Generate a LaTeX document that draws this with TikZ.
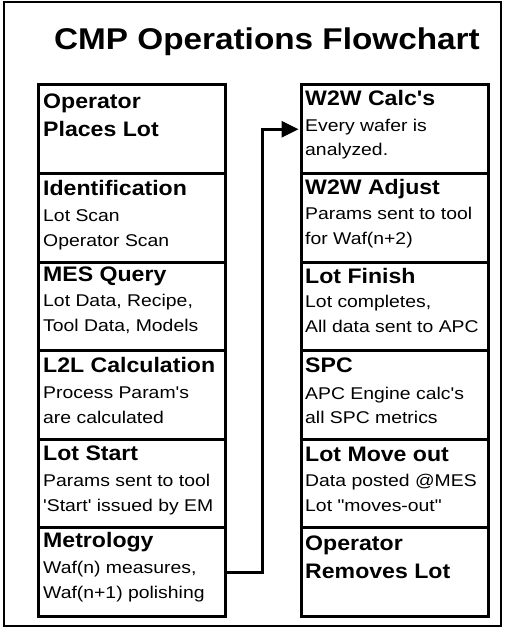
\documentclass[tikz,border=0pt]{standalone}
\usepackage{fontspec}
\setmainfont{Liberation Sans}[Ligatures=TeXOff]
\newfontfamily\bodyfont{Liberation Sans}[FakeStretch=1.14,Ligatures=TeXOff]
\newfontfamily\headfont{Liberation Sans Bold}[FakeStretch=1.1,Ligatures=TeXOff]
\newfontfamily\titlefont{Liberation Sans Bold}[FakeStretch=1.11]
\usetikzlibrary{arrows.meta}
\begin{document}
\begin{tikzpicture}[x=1pt,y=-1pt,
  stepbox/.style={draw, line width=3pt, inner sep=0pt, minimum width=186.5pt, minimum height=88.58pt, anchor=north west},
  hd/.style={anchor=base west, inner sep=0pt, font=\headfont\fontsize{21}{25}\selectfont},
  bd/.style={anchor=base west, inner sep=0pt, font=\bodyfont\fontsize{17}{25}\selectfont},
  conn/.style={line width=3pt, -{Triangle[length=17pt,width=16pt]}, shorten >=1.5pt},
  frame/.style={draw, line width=1.2pt}
]
\useasboundingbox (0,0) rectangle (509,636);
\draw[frame] (4,2) rectangle (501,626);
\node[anchor=base west, inner sep=0pt, font=\titlefont\fontsize{30}{36}\selectfont] (title) at (54,50) {CMP Operations Flowchart};

% left column
\node[stepbox] (l1) at (37,83.5) {};
\node[stepbox] (l2) at (37,172.08) {};
\node[stepbox] (l3) at (37,260.66) {};
\node[stepbox] (l4) at (37,349.24) {};
\node[stepbox] (l5) at (37,437.82) {};
\node[stepbox] (l6) at (37,526.4) {};
% right column
\node[stepbox] (r1) at (300,83.5) {};
\node[stepbox] (r2) at (300,172.08) {};
\node[stepbox] (r3) at (300,260.66) {};
\node[stepbox] (r4) at (300,349.24) {};
\node[stepbox] (r5) at (300,437.82) {};
\node[stepbox] (r6) at (300,526.4) {};

% left texts
\node[hd] (l1h) at ([shift={(6,25)}]l1.north west) {Operator};
\node[hd] (l1i) at ([shift={(6,53)}]l1.north west) {Places Lot};

\node[hd] (l2h) at ([shift={(6,23)}]l2.north west) {Identification};
\node[bd] (l2a) at ([shift={(6,49)}]l2.north west) {Lot Scan};
\node[bd] (l2b) at ([shift={(6,74)}]l2.north west) {Operator Scan};

\node[hd] (l3h) at ([shift={(6,21)}]l3.north west) {MES Query};
\node[bd] (l3a) at ([shift={(6,46)}]l3.north west) {Lot Data, Recipe,};
\node[bd] (l3b) at ([shift={(6,71)}]l3.north west) {Tool Data, Models};

\node[hd] (l4h) at ([shift={(6,23)}]l4.north west) {L2L Calculation};
\node[bd] (l4a) at ([shift={(6,49)}]l4.north west) {Process Param's};
\node[bd] (l4b) at ([shift={(6,74)}]l4.north west) {are calculated};

\node[hd] (l5h) at ([shift={(6,23)}]l5.north west) {Lot Start};
\node[bd] (l5a) at ([shift={(6,49)}]l5.north west) {Params sent to tool};
\node[bd] (l5b) at ([shift={(6,74)}]l5.north west) {'Start' issued by EM};

\node[hd] (l6h) at ([shift={(6,21)}]l6.north west) {Metrology};
\node[bd] (l6a) at ([shift={(6,47)}]l6.north west) {Waf(n) measures,};
\node[bd] (l6b) at ([shift={(6,72)}]l6.north west) {Waf(n+1) polishing};

% right texts
\node[hd] (r1h) at ([shift={(5,22)}]r1.north west) {W2W Calc's};
\node[bd] (r1a) at ([shift={(5,48.5)}]r1.north west) {Every wafer is};
\node[bd] (r1b) at ([shift={(5,72)}]r1.north west) {analyzed.};

\node[hd] (r2h) at ([shift={(5,22)}]r2.north west) {W2W Adjust};
\node[bd] (r2a) at ([shift={(5,47)}]r2.north west) {Params sent to tool};
\node[bd] (r2b) at ([shift={(5,72)}]r2.north west) {for Waf(n+2)};

\node[hd] (r3h) at ([shift={(5,23)}]r3.north west) {Lot Finish};
\node[bd] (r3a) at ([shift={(5,47)}]r3.north west) {Lot completes,};
\node[bd] (r3b) at ([shift={(5,72)}]r3.north west) {All data sent to APC};

\node[hd] (r4h) at ([shift={(5,23)}]r4.north west) {SPC};
\node[bd] (r4a) at ([shift={(5,50)}]r4.north west) {APC Engine calc's};
\node[bd] (r4b) at ([shift={(5,74)}]r4.north west) {all SPC metrics};

\node[hd] (r5h) at ([shift={(5,24)}]r5.north west) {Lot Move out};
\node[bd] (r5a) at ([shift={(5,49)}]r5.north west) {Data posted @MES};
\node[bd] (r5b) at ([shift={(5,74)}]r5.north west) {Lot "moves-out"};

\node[hd] (r6h) at ([shift={(5,24)}]r6.north west) {Operator};
\node[hd] (r6i) at ([shift={(5,52)}]r6.north west) {Removes Lot};

% connector
\coordinate (bend) at (262,0);
\draw[conn] (l6.east) -- (l6.east -| bend) |- (r1.west);
\end{tikzpicture}
\end{document}
